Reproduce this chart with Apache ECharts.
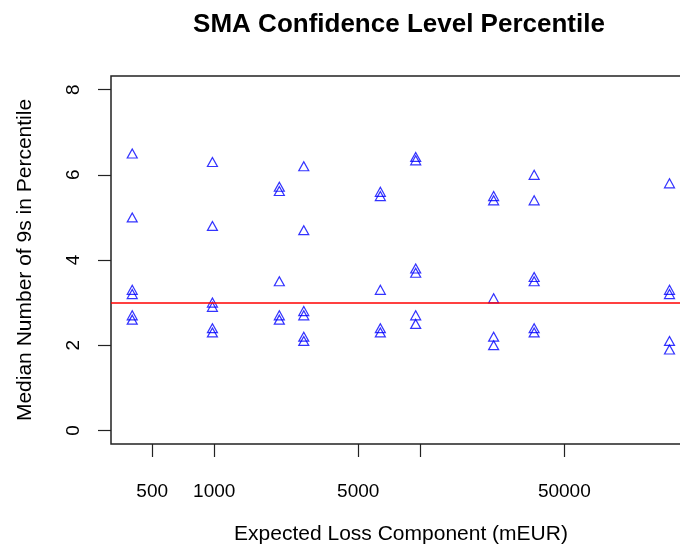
<!DOCTYPE html>
<html>
<head>
<meta charset="utf-8">
<script src="https://cdn.jsdelivr.net/npm/echarts@6/dist/echarts.min.js"></script>
<style>
html,body{margin:0;padding:0;background:#fff;}
#chart{width:680px;height:549px;}
</style>
</head>
<body>
<div id="chart"></div>
<script>
// Expected loss component (mEUR) for each group of points
const lossLevels = [400, 980, 2070, 2720, 6400, 9500, 22700, 35700, 162000];
// Median number of 9s in percentile, one list per loss level
const medianNines = [
  [6.5, 5.0, 3.3, 3.2, 2.7, 2.6],
  [6.3, 4.8, 3.0, 2.9, 2.4, 2.3],
  [5.72, 5.62, 3.5, 2.7, 2.6],
  [6.2, 4.7, 2.8, 2.7, 2.2, 2.1],
  [5.6, 5.5, 3.3, 2.4, 2.3],
  [6.42, 6.34, 3.8, 3.7, 2.7, 2.5],
  [5.5, 5.4, 3.1, 2.2, 2.0],
  [6.0, 5.4, 3.6, 3.5, 2.4, 2.3],
  [5.8, 3.3, 3.2, 2.1, 1.9]
];
const referenceLevel = 3;
const xTickValues = [500, 1000, 5000, 10000, 50000];
const xLabelValues = [500, 1000, 5000, 50000];
const yTickValues = [0, 2, 4, 6, 8];
const titleText = 'SMA Confidence Level Percentile';
const xTitle = 'Expected Loss Component (mEUR)';
const yTitle = 'Median Number of 9s in Percentile';

const points = [];
lossLevels.forEach((x, i) => medianNines[i].forEach(y => points.push([x, y])));

const font = 'Liberation Sans, Arial, sans-serif';
const chart = echarts.init(document.getElementById('chart'), null, {renderer: 'canvas'});
chart.setOption({
  animation: false,
  backgroundColor: '#fff',
  graphic: [{
    type: 'text', x: 399, y: 25,
    style: {text: titleText, font: 'bold 26px ' + font, fill: '#000', align: 'center', verticalAlign: 'middle'}
  }],
  grid: {left: 111, top: 76, width: 580, height: 368, show: true, borderColor: '#222', borderWidth: 1.5,
         backgroundColor: 'transparent', outerBoundsMode: 'none', containLabel: false},
  xAxis: {
    type: 'log', logBase: 10,
    min: 315.5, max: 206000,
    name: xTitle, nameLocation: 'middle', nameGap: 80,
    nameTextStyle: {fontFamily: font, fontSize: 21, color: '#000'},
    axisLine: {show: false, onZero: false},
    axisTick: {show: true, length: 13, lineStyle: {color: '#222', width: 1.2}, customValues: xTickValues},
    axisLabel: {fontFamily: font, fontSize: 19, color: '#000', margin: 38, customValues: xLabelValues, formatter: v => String(v)},
    splitLine: {show: false}, minorTick: {show: false}
  },
  yAxis: {
    type: 'value', min: -0.32, max: 8.32,
    name: yTitle, nameLocation: 'middle', nameGap: 75,
    nameTextStyle: {fontFamily: font, fontSize: 21, color: '#000'},
    axisLine: {show: false, onZero: false},
    axisTick: {show: true, length: 13, lineStyle: {color: '#222', width: 1.2}, customValues: yTickValues},
    axisLabel: {fontFamily: font, fontSize: 19, color: '#000', rotate: 90, margin: 28, customValues: yTickValues},
    splitLine: {show: false}
  },
  series: [{
    type: 'scatter',
    data: points,
    symbol: 'triangle',
    symbolSize: [10, 9],
    itemStyle: {color: 'rgba(0,0,0,0)', borderColor: '#0000ff', borderWidth: 1.2},
    markLine: {
      silent: true, symbol: ['none', 'none'],
      label: {show: false},
      lineStyle: {color: '#ff0000', width: 1.5, type: 'solid'},
      data: [{yAxis: referenceLevel}]
    }
  }]
});
</script>
</body>
</html>
